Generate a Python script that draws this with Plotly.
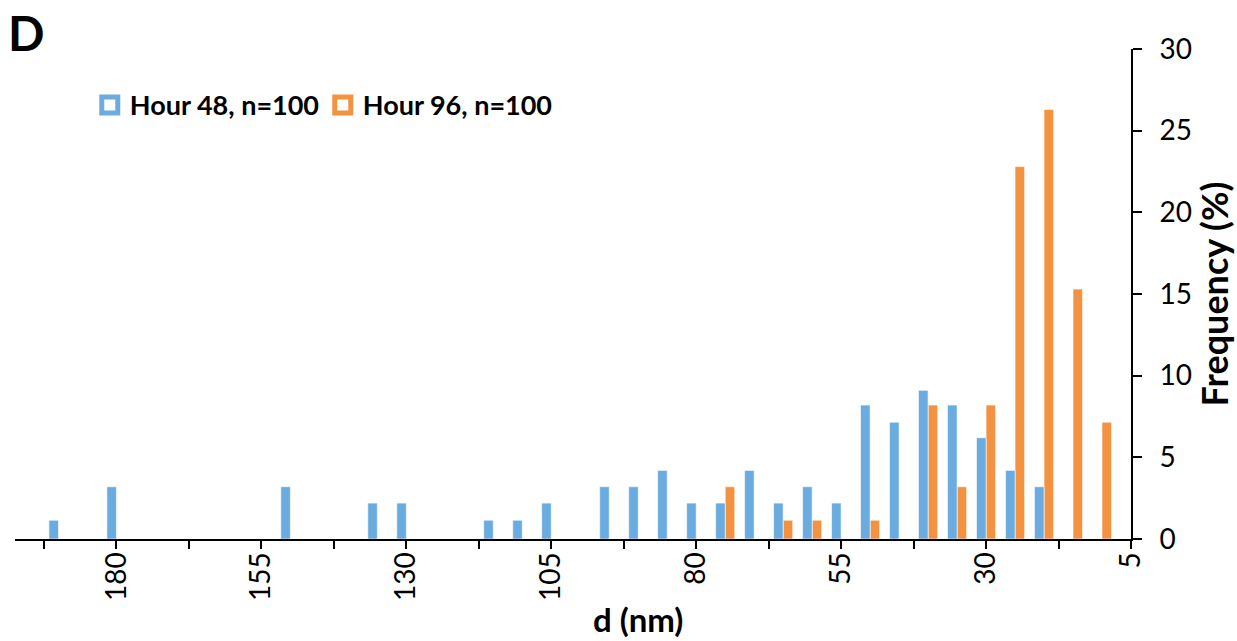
import plotly.graph_objects as go

# bin centres (nm)
d_nm = [190, 185, 180, 175, 170, 165, 160, 155, 150, 145, 140, 135, 130, 125, 120,
        115, 110, 105, 100, 95, 90, 85, 80, 75, 70, 65, 60, 55, 50, 45, 40, 35,
        30, 25, 20, 15, 10]
# frequency (%)
hour48 = [1.15, 0, 3.2, 0, 0, 0, 0, 0, 3.2, 0, 0, 2.2, 2.2, 0, 0,
          1.15, 1.15, 2.2, 0, 3.2, 3.2, 4.2, 2.2, 2.2, 4.2, 2.2, 3.2, 2.2, 8.2, 7.15, 9.1, 8.2,
          6.2, 4.2, 3.2, 0, 0]
hour96 = [0, 0, 0, 0, 0, 0, 0, 0, 0, 0, 0, 0, 0, 0, 0,
          0, 0, 0, 0, 0, 0, 0, 0, 3.2, 0, 1.15, 1.15, 0, 1.15, 0, 8.2, 3.2,
          8.2, 22.8, 26.3, 15.3, 7.15]

series_names = ["Hour 48, n=100", "Hour 96, n=100"]
colors = ["#6aacdf", "#f39241"]

tick_vals = [5 + 12.5 * i for i in range(16)]
tick_text = [("%g" % v) if (v - 5) % 25 == 0 else "" for v in tick_vals]

FONT = "Lato"

fig = go.Figure()
# bars: added in reverse so that, on the reversed x axis, Hour 48 sits on the left
for name, vals, col in list(zip(series_names, [hour48, hour96], colors))[::-1]:
    fig.add_trace(go.Bar(
        x=d_nm, y=vals, name=name, showlegend=False,
        marker=dict(color=col, line=dict(color="white", width=0.6)),
    ))
# legend entries (Excel-style hollow squares)
for name, col in zip(series_names, colors):
    fig.add_trace(go.Scatter(
        x=[None], y=[None], mode="markers", name=name,
        marker=dict(symbol="square", size=16, color="white",
                    line=dict(color=col, width=5)),
    ))

fig.update_layout(
    width=1237, height=641,
    margin=dict(l=15, r=106, t=49, b=102),
    paper_bgcolor="white", plot_bgcolor="white",
    barmode="group", bargap=0.34, bargroupgap=0,
    font=dict(family=FONT, color="black", size=28),
    legend=dict(orientation="h", x=0.067, y=0.885, xanchor="left", yanchor="middle",
                font=dict(family=FONT, size=27, color="black", weight="bold"),
                bgcolor="rgba(0,0,0,0)", entrywidth=188, entrywidthmode="pixels",
                itemwidth=30),
    xaxis=dict(range=[197.5, 5], tickmode="array", tickvals=tick_vals, ticktext=tick_text,
               tickangle=-90, ticks="outside", ticklen=8, tickwidth=2, tickcolor="black",
               showline=True, linecolor="black", linewidth=2, showgrid=False, zeroline=False,
               tickfont=dict(family=FONT, size=28), ticklabelstandoff=-8),
    yaxis=dict(range=[0, 30], side="right", tickvals=[0, 5, 10, 15, 20, 25, 30],
               ticks="outside", ticklen=9, tickwidth=2, tickcolor="black",
               showline=True, linecolor="black", linewidth=2, showgrid=False, zeroline=False,
               tickfont=dict(family=FONT, size=28), ticklabelstandoff=12,
               title=dict(text="Frequency (%)", font=dict(family=FONT, size=36, weight="bold"),
                          standoff=5)),
)

# x-axis title (placed right of centre, as in the reference)
fig.add_annotation(text="d (nm)", xref="paper", yref="paper", x=0.558, y=-0.163,
                   xanchor="center", yanchor="middle", showarrow=False,
                   font=dict(family=FONT, size=33, weight="bold", color="black"))

fig.add_annotation(text="D", xref="paper", yref="paper", x=-0.008, y=1.095,
                   xanchor="left", yanchor="top", showarrow=False,
                   font=dict(family=FONT, size=48, weight="bold", color="black"))

fig.write_html("out.html")
